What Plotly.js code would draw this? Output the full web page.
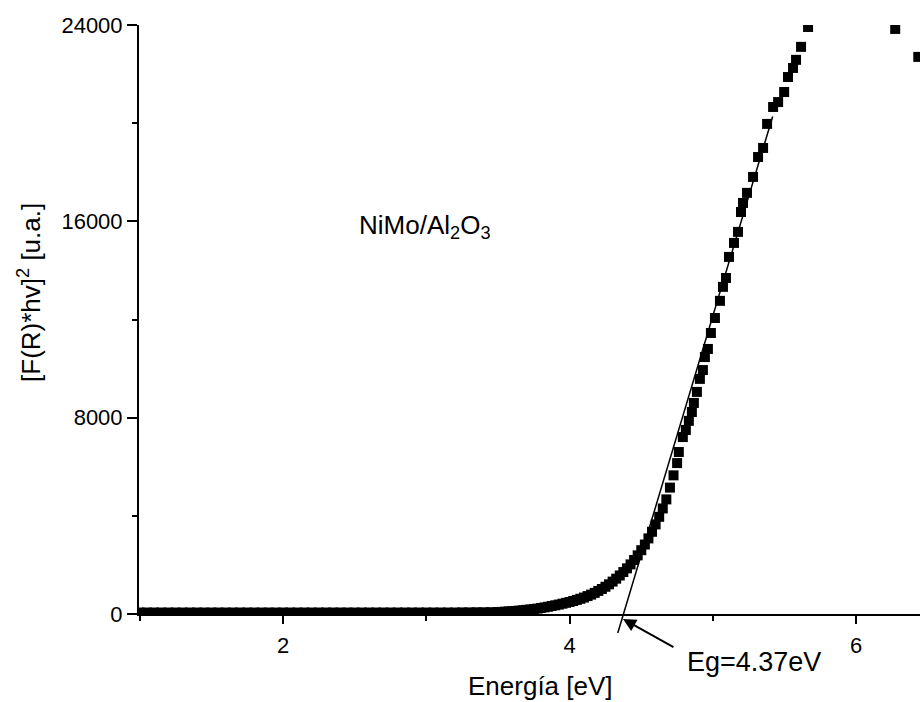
<!DOCTYPE html>
<html>
<head>
<meta charset="utf-8">
<script src="https://cdn.plot.ly/plotly-3.0.1.min.js"></script>
<style>html,body{margin:0;padding:0;background:#fff;}#chart{width:920px;height:702px;}</style>
</head>
<body>
<div id="chart"></div>
<script>
// Photon energy [eV] and (F(R)*hv)^2 [a.u.]
const flatE = [1.00,1.05,1.10,1.15,1.20,1.25,1.30,1.35,1.40,1.45,1.50,1.55,1.60,1.65,1.70,1.75,1.80,1.85,1.90,1.95,
  2.00,2.05,2.10,2.15,2.20,2.25,2.30,2.35,2.40,2.45,2.50,2.55,2.60,2.65,2.70,2.75,2.80,2.85,2.90,2.95,
  3.00,3.05,3.10,3.15,3.20,3.25,3.30,3.35,3.40,3.45];
const flatV = [60,60,60,60,60,60,60,60,60,60,60,60,60,60,60,60,60,60,60,60,
  60,60,60,60,60,60,60,60,60,60,60,60,60,60,60,60,60,60,60,60,
  60,60,60,60,60,65,65,70,70,75];
const edgeE = [3.500,3.525,3.550,3.575,3.600,3.625,3.650,3.675,3.700,3.725,3.750,3.775,3.800,3.825,3.850,3.875,
  3.900,3.925,3.950,3.975,4.000,4.025,4.050,4.075,4.100,4.125,4.150,4.175,4.200,4.225,4.250,4.275,4.300,4.325,
  4.350,4.375,4.400,4.425,4.450,4.475,4.500,4.525,4.550,4.575,4.600,4.625,4.650,4.675,4.700,4.725,4.750];
const edgeV = [80,85,95,105,115,125,140,155,170,185,200,220,245,270,295,325,
  355,385,420,455,490,530,575,620,670,730,790,860,940,1020,1110,1210,1320,1440,
  1570,1710,1860,2020,2200,2390,2600,2830,3080,3350,3650,3960,4300,4670,5150,5650,6150];
const riseE = [4.762,4.790,4.811,4.832,4.853,4.867,4.888,4.909,4.930,4.944,4.965,4.986,5.014,5.049,5.070,5.091,
  5.112,5.147,5.175,5.196,5.210,5.238,5.280,5.315,5.350,5.378,5.420,5.455,5.497,5.524,5.559,5.580,5.615,5.664,
  6.272,6.433];
const riseV = [6600,7210,7500,7870,8230,8600,9050,9580,9940,10470,10800,11450,12060,12760,13330,13690,
  14550,15120,15570,16380,16750,17160,17810,18620,18990,19970,20660,20860,21270,21880,22250,22580,23110,23920,
  23840,22700];
// linear fit of the absorption edge (extrapolated to the energy axis)
const fitE = [4.336, 5.420];
const fitV = [-774, 20334];
const gapLabel = "Eg=4.37eV";
const sampleLabel = "NiMo/Al<sub>2</sub>O<sub>3</sub>";
const xTitle = "Energía [eV]";
const yTitle = "[F(R)*hv]<sup>2</sup> [u.a.]";

const E = flatE.concat(edgeE, riseE);
const V = flatV.concat(edgeV, riseV);

const FONT = "Liberation Sans, Arial, sans-serif";

const trace = {
  x: E, y: V, type: "scatter", mode: "markers",
  marker: {symbol: "square", size: 10, color: "#000"},
  cliponaxis: true, showlegend: false, hoverinfo: "x+y"
};

const layout = {
  width: 920, height: 702,
  margin: {l: 139, r: 0, t: 25, b: 88},
  paper_bgcolor: "#fff", plot_bgcolor: "#fff",
  font: {family: FONT, color: "#000", size: 22},
  showlegend: false,
  xaxis: {
    range: [0.995, 6.445], showgrid: false, zeroline: false,
    showline: true, linecolor: "#000", linewidth: 2,
    ticks: "outside", ticklen: 8, tickwidth: 2, tickcolor: "#000",
    tick0: 0, dtick: 2, tickfont: {size: 22, family: FONT}, ticklabelstandoff: 3,
    minor: {dtick: 1, tick0: 0, ticks: "outside", ticklen: 5, tickwidth: 2, tickcolor: "#000", showgrid: false}
  },
  yaxis: {
    range: [0, 24000], showgrid: false, zeroline: false,
    showline: true, linecolor: "#000", linewidth: 2,
    ticks: "outside", ticklen: 10, tickwidth: 2, tickcolor: "#000",
    tick0: 0, dtick: 8000, tickformat: "d", exponentformat: "none",
    tickfont: {size: 22, family: FONT}, ticklabelstandoff: 0,
    minor: {dtick: 4000, tick0: 0, ticks: "outside", ticklen: 5, tickwidth: 2, tickcolor: "#000", showgrid: false}
  },
  annotations: [
    {x: fitE[0], y: fitV[0], ax: fitE[1], ay: fitV[1], xref: "x", yref: "y", axref: "x", ayref: "y",
     text: "", showarrow: true, arrowhead: 0, arrowwidth: 1.5, arrowcolor: "#000", standoff: 0, startstandoff: 0},
    {x: 0.6197, y: -0.0085, xref: "paper", yref: "paper", ax: 52, ay: 29,
     text: "", showarrow: true, arrowhead: 2, arrowsize: 1.3, arrowwidth: 2, arrowcolor: "#000", standoff: 0, startstandoff: 0},
    {x: 0.6985, y: -0.0815, xref: "paper", yref: "paper", text: gapLabel, showarrow: false,
     xanchor: "left", yanchor: "middle", font: {size: 27, family: FONT, color: "#000"}},
    {x: 2.516, y: 15770, xref: "x", yref: "y", text: sampleLabel, showarrow: false,
     xanchor: "left", yanchor: "middle", font: {size: 26, family: FONT, color: "#000"}},
    {x: 0.5147, y: -0.1222, xref: "paper", yref: "paper", text: xTitle, showarrow: false,
     xanchor: "center", yanchor: "middle", font: {size: 26, family: FONT, color: "#000"}},
    {x: -0.1396, y: 0.5467, xref: "paper", yref: "paper", text: yTitle, showarrow: false, textangle: -90,
     xanchor: "center", yanchor: "middle", font: {size: 26, family: FONT, color: "#000"}}
  ]
};

Plotly.newPlot("chart", [trace], layout, {staticPlot: true, displayModeBar: false});
</script>
</body>
</html>
